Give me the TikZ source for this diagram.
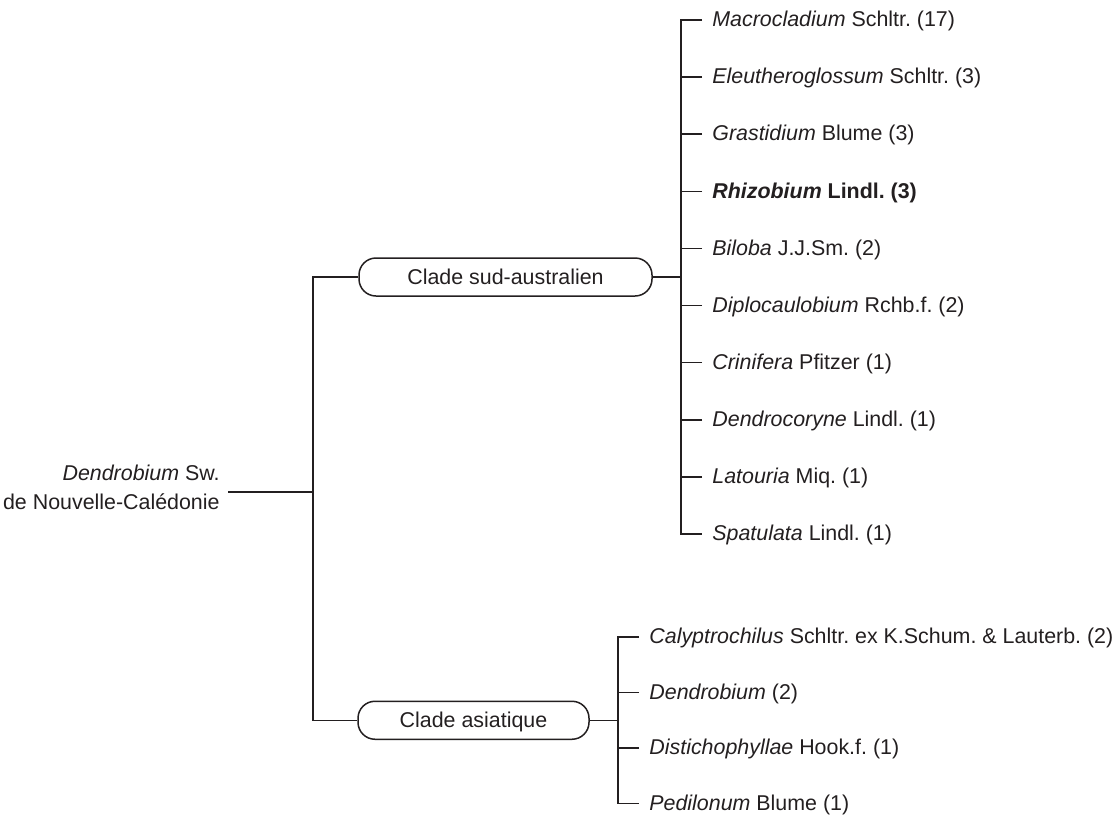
\documentclass[tikz,border=0pt]{standalone}
\usepackage{fontspec}
\setmainfont{Liberation Sans}
\definecolor{ink}{RGB}{35,31,32}
\frenchspacing
\begin{document}
\frenchspacing
\begin{tikzpicture}[x=0.5pt,y=-0.5pt,
  txt/.style={font=\fontsize{10.7}{14.6}\selectfont, text=ink},
  clade/.style={txt, draw=ink, line width=0.75pt, rounded corners=8.5pt,
    minimum width=#1, minimum height=19pt, inner sep=0pt,
    text height=7.6pt, text depth=0pt},
  taxon/.style={txt, anchor=west, inner xsep=5pt, inner ysep=0pt,
    text height=7pt, text depth=0.3pt},
  branch/.style={draw=ink, line width=0.75pt}]
\useasboundingbox (0,0) rectangle (1117,816);

% root
\node[txt, anchor=east, align=right, inner sep=0pt] (root) at (220,487)
  {\textit{Dendrobium} Sw.\\de Nouvelle-Calédonie};
\coordinate (rs) at (228,492);
\coordinate (rj) at (313,492);

% clades
\node[clade=146.5pt] (sa) at (505.5,277) {Clade sud-australien};
\node[clade=115.5pt] (as) at (473.5,720.25) {Clade asiatique};

\draw[branch] (rs) -- (rj);
\draw[branch] (sa.west) -| (rj) |- (as.west);

% south-australian taxa
\node[taxon] (t0) at (702,20)    {\textit{Macrocladium} Schltr. (17)};
\node[taxon] (t1) at (702,77.1)  {\textit{Eleutheroglossum} Schltr. (3)};
\node[taxon] (t2) at (702,134.2) {\textit{Grastidium} Blume (3)};
\node[taxon] (t3) at (702,191.3) {\textbf{\textit{Rhizobium} Lindl. (3)}};
\node[taxon] (t4) at (702,248.4) {\textit{Biloba} J.J.Sm. (2)};
\node[taxon] (t5) at (702,305.6) {\textit{Diplocaulobium} Rchb.f. (2)};
\node[taxon] (t6) at (702,362.7) {\textit{Crinifera} Pfitzer (1)};
\node[taxon] (t7) at (702,419.8) {\textit{Dendrocoryne} Lindl. (1)};
\node[taxon] (t8) at (702,476.9) {\textit{Latouria} Miq. (1)};
\node[taxon] (t9) at (702,534)   {\textit{Spatulata} Lindl. (1)};

\coordinate (sj) at (681,277);
\draw[branch] (sa.east) -- (sj);
\draw[branch] (t0.west) -| (sj) |- (t9.west);
\foreach \i in {1,...,8} \draw[branch] (t\i.west) -- (t\i.west -| sj);

% asian taxa
\node[taxon] (a0) at (639,637)   {\textit{Calyptrochilus} Schltr. ex K.Schum. \& Lauterb. (2)};
\node[taxon] (a1) at (639,692.5) {\textit{Dendrobium} (2)};
\node[taxon] (a2) at (639,748)   {\textit{Distichophyllae} Hook.f. (1)};
\node[taxon] (a3) at (639,803.5) {\textit{Pedilonum} Blume (1)};

\coordinate (aj) at (618,720.25);
\draw[branch] (as.east) -- (aj);
\draw[branch] (a0.west) -| (aj) |- (a3.west);
\foreach \i in {1,2} \draw[branch] (a\i.west) -- (a\i.west -| aj);
\end{tikzpicture}
\end{document}
